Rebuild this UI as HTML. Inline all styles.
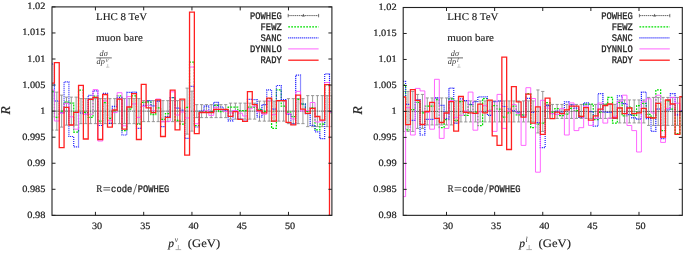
<!DOCTYPE html>
<html><head><meta charset="utf-8"><style>
html,body{margin:0;padding:0;background:#fff;width:685px;height:258px;overflow:hidden}
svg{display:block;will-change:transform}
text{-webkit-font-smoothing:antialiased;text-rendering:geometricPrecision}
.tl{font-family:"Liberation Serif",serif;font-size:9.7px;fill:#1a1a1a;stroke:#1a1a1a;stroke-width:0.2px}
.rm{font-family:"Liberation Serif",serif;font-size:10.4px;fill:#222;stroke:#222;stroke-width:0.15px}
.tt{font-family:"Liberation Mono",monospace;font-size:10px;fill:#222;stroke:#222;stroke-width:0.3px}
.fr{font-family:"Liberation Serif",serif;font-size:8.2px;font-style:italic;fill:#333}
.frs{font-family:"Liberation Serif",serif;font-size:6.2px;font-style:italic;fill:#333}
.ax{font-family:"Liberation Serif",serif;font-size:11.5px;fill:#222;stroke:#222;stroke-width:0.15px}
.axs{font-family:"Liberation Serif",serif;font-size:7.5px;fill:#222}
.ry{font-family:"Liberation Serif",serif;font-size:13.5px;font-style:italic;fill:#222;stroke:#222;stroke-width:0.2px}
</style></head><body>
<svg width="685" height="258" viewBox="0 0 685 258">
<clipPath id="clipL"><rect x="52.00" y="6.90" width="279.90" height="208.45"/></clipPath>
<g clip-path="url(#clipL)" fill="none">
<path d="M52.00 92.13V130.13M50.40 92.13H53.60M50.40 130.13H53.60M56.83 92.13V130.13M55.23 92.13H58.43M55.23 130.13H58.43M61.65 95.13V127.13M60.05 95.13H63.25M60.05 127.13H63.25M66.48 97.13V125.13M64.88 97.13H68.08M64.88 125.13H68.08M71.30 97.13V125.13M69.70 97.13H72.90M69.70 125.13H72.90M76.13 97.13V125.13M74.53 97.13H77.73M74.53 125.13H77.73M80.96 98.63V123.63M79.36 98.63H82.56M79.36 123.63H82.56M85.78 98.63V123.63M84.18 98.63H87.38M84.18 123.63H87.38M90.61 98.63V123.63M89.01 98.63H92.21M89.01 123.63H92.21M95.43 98.63V123.63M93.83 98.63H97.03M93.83 123.63H97.03M100.26 98.63V123.63M98.66 98.63H101.86M98.66 123.63H101.86M105.08 98.63V123.63M103.48 98.63H106.68M103.48 123.63H106.68M109.91 98.63V123.63M108.31 98.63H111.51M108.31 123.63H111.51M114.74 98.63V123.63M113.14 98.63H116.34M113.14 123.63H116.34M119.56 98.63V123.63M117.96 98.63H121.16M117.96 123.63H121.16M124.39 98.63V123.63M122.79 98.63H125.99M122.79 123.63H125.99M129.21 98.63V123.63M127.61 98.63H130.81M127.61 123.63H130.81M134.04 98.63V123.63M132.44 98.63H135.64M132.44 123.63H135.64M138.87 98.63V123.63M137.27 98.63H140.47M137.27 123.63H140.47M143.69 100.63V121.63M142.09 100.63H145.29M142.09 121.63H145.29M148.52 100.63V121.63M146.92 100.63H150.12M146.92 121.63H150.12M153.34 100.63V121.63M151.74 100.63H154.94M151.74 121.63H154.94M158.17 100.63V121.63M156.57 100.63H159.77M156.57 121.63H159.77M162.99 100.63V121.63M161.39 100.63H164.59M161.39 121.63H164.59M167.82 100.63V121.63M166.22 100.63H169.42M166.22 121.63H169.42M172.65 100.63V121.63M171.05 100.63H174.25M171.05 121.63H174.25M177.47 100.63V121.63M175.87 100.63H179.07M175.87 121.63H179.07M182.30 100.63V121.63M180.70 100.63H183.90M180.70 121.63H183.90M187.12 88.13V134.13M185.52 88.13H188.72M185.52 134.13H188.72M191.95 91.13V131.13M190.35 91.13H193.55M190.35 131.13H193.55M196.78 104.63V117.63M195.18 104.63H198.38M195.18 117.63H198.38M201.60 104.63V117.63M200.00 104.63H203.20M200.00 117.63H203.20M206.43 104.63V117.63M204.83 104.63H208.03M204.83 117.63H208.03M211.25 104.63V117.63M209.65 104.63H212.85M209.65 117.63H212.85M216.08 104.63V117.63M214.48 104.63H217.68M214.48 117.63H217.68M220.91 104.63V117.63M219.31 104.63H222.51M219.31 117.63H222.51M225.73 104.63V117.63M224.13 104.63H227.33M224.13 117.63H227.33M230.56 103.13V119.13M228.96 103.13H232.16M228.96 119.13H232.16M235.38 103.13V119.13M233.78 103.13H236.98M233.78 119.13H236.98M240.21 103.13V119.13M238.61 103.13H241.81M238.61 119.13H241.81M245.03 103.13V119.13M243.43 103.13H246.63M243.43 119.13H246.63M249.86 103.13V119.13M248.26 103.13H251.46M248.26 119.13H251.46M254.69 103.13V119.13M253.09 103.13H256.29M253.09 119.13H256.29M259.51 101.13V121.13M257.91 101.13H261.11M257.91 121.13H261.11M264.34 101.13V121.13M262.74 101.13H265.94M262.74 121.13H265.94M269.16 101.13V121.13M267.56 101.13H270.76M267.56 121.13H270.76M273.99 101.13V121.13M272.39 101.13H275.59M272.39 121.13H275.59M278.82 101.13V121.13M277.22 101.13H280.42M277.22 121.13H280.42M283.64 101.13V121.13M282.04 101.13H285.24M282.04 121.13H285.24M288.47 98.63V123.63M286.87 98.63H290.07M286.87 123.63H290.07M293.29 98.63V123.63M291.69 98.63H294.89M291.69 123.63H294.89M298.12 98.63V123.63M296.52 98.63H299.72M296.52 123.63H299.72M302.94 98.63V123.63M301.34 98.63H304.54M301.34 123.63H304.54M307.77 95.63V126.63M306.17 95.63H309.37M306.17 126.63H309.37M312.60 95.63V126.63M311.00 95.63H314.20M311.00 126.63H314.20M317.42 95.63V126.63M315.82 95.63H319.02M315.82 126.63H319.02M322.25 95.63V126.63M320.65 95.63H323.85M320.65 126.63H323.85M327.07 95.63V126.63M325.47 95.63H328.67M325.47 126.63H328.67M331.90 95.63V126.63M330.30 95.63H333.50M330.30 126.63H333.50" stroke="#888" stroke-width="0.85"/>
<path d="M52.00 111.13H331.90" stroke="#555" stroke-width="0.9" stroke-dasharray="1.5 0.6"/>
<path d="M52.00 91.00H54.41V117.40H59.24V111.10H64.06V102.05H68.89V103.00H73.72V132.10H78.54V90.10H83.37V112.27H88.19V117.40H93.02V96.00H97.85V121.00H102.67V102.55H107.50V118.40H112.32V110.69H117.15V95.90H121.97V130.60H126.80V109.10H131.63V95.90H136.45V124.00H141.28V102.40H146.10V101.90H150.93V114.50H155.76V107.80H160.58V119.40H165.41V113.60H170.23V97.60H175.06V120.30H179.89V124.00H184.71V107.30H189.54V62.20H194.36V125.50H199.19V111.60H204.01V111.60H208.84V111.60H213.67V105.48H218.49V111.60H223.32V109.71H228.14V107.20H232.97V107.20H237.80V110.60H242.62V110.60H247.45V107.00H252.27V107.20H257.10V109.40H261.92V111.35H266.75V98.50H271.58V128.40H276.40V89.90H281.23V106.20H286.05V112.02H290.88V116.74H295.71V99.30H300.53V104.00H305.36V111.40H310.18V107.50H315.01V129.90H319.84V124.00H324.66V84.70H329.49V112.66H331.90" stroke="#00e000" stroke-width="1.25" stroke-dasharray="1.8 1.2"/>
<path d="M52.00 64.00H54.41V101.00H59.24V112.60H64.06V81.90H68.89V136.50H73.72V146.80H78.54V113.00H83.37V114.00H88.19V95.40H93.02V90.80H97.85V125.50H102.67V93.30H107.50V123.30H112.32V106.30H117.15V97.30H121.97V135.00H126.80V92.40H131.63V92.20H136.45V128.40H141.28V105.30H146.10V100.70H150.93V105.80H155.76V101.20H160.58V126.70H165.41V116.50H170.23V97.60H175.06V108.20H179.89V110.20H184.71V138.40H189.54V86.30H194.36V127.00H199.19V111.00H204.01V106.20H208.84V112.00H213.67V102.40H218.49V107.00H223.32V110.08H228.14V120.80H232.97V111.08H237.80V119.00H242.62V121.00H247.45V99.30H252.27V99.60H257.10V117.00H261.92V104.70H266.75V89.90H271.58V109.10H276.40V85.50H281.23V99.60H286.05V114.30H290.88V123.90H295.71V75.10H300.53V104.00H305.36V113.60H310.18V125.30H315.01V131.80H319.84V138.70H324.66V73.90H329.49V111.97H331.90" stroke="#1f1fff" stroke-width="1.2" stroke-dasharray="1.1 0.9"/>
<path d="M52.00 90.00H54.41V121.00H59.24V113.26H64.06V103.40H68.89V116.81H73.72V129.20H78.54V85.60H83.37V114.30H88.19V114.30H93.02V89.60H97.85V141.00H102.67V100.91H107.50V120.30H112.32V112.60H117.15V92.70H121.97V125.80H126.80V96.60H131.63V103.90H136.45V117.40H141.28V106.27H146.10V105.30H150.93V110.70H155.76V99.00H160.58V121.80H165.41V121.30H170.23V91.80H175.06V115.00H179.89V112.00H184.71V118.00H189.54V67.00H194.36V123.70H199.19V112.24H204.01V110.75H208.84V115.40H213.67V107.30H218.49V109.66H223.32V111.49H228.14V112.91H232.97V110.60H237.80V113.23H242.62V116.00H247.45V108.70H252.27V106.26H257.10V111.98H261.92V114.30H266.75V100.20H271.58V114.64H276.40V100.60H281.23V100.60H286.05V113.41H290.88V119.02H295.71V91.40H300.53V111.00H305.36V110.50H310.18V102.50H315.01V122.00H319.84V121.00H324.66V82.50H329.49V112.52H331.90" stroke="#ff55ff" stroke-width="0.9"/>
<path d="M52.00 83.20H54.41V62.60H59.24V147.60H64.06V107.40H68.89V125.00H73.72V112.40H78.54V85.40H83.37V139.00H88.19V99.30H93.02V97.30H97.85V139.50H102.67V94.50H107.50V127.20H112.32V110.00H117.15V99.20H121.97V129.20H126.80V107.00H131.63V93.60H136.45V139.50H141.28V84.30H146.10V107.80H150.93V112.70H155.76V99.80H160.58V136.50H165.41V117.30H170.23V90.10H175.06V129.90H179.89V99.10H184.71V155.20H189.54V12.10H194.36V133.60H199.19V112.50H204.01V112.50H208.84V112.50H213.67V109.40H218.49V109.40H223.32V109.40H228.14V116.40H232.97V111.60H237.80V119.30H242.62V121.30H247.45V91.70H252.27V104.70H257.10V110.60H261.92V112.80H266.75V98.10H271.58V121.20H276.40V100.60H281.23V100.60H286.05V122.40H290.88V124.90H295.71V95.20H300.53V109.10H305.36V113.30H310.18V108.40H315.01V116.50H319.84V120.20H324.66V84.70H329.49V240.00H331.90" stroke="#ff2020" stroke-width="1.3"/>
</g>
<rect x="52.00" y="6.90" width="279.90" height="208.45" fill="none" stroke="#222" stroke-width="1.1"/>
<path d="M52.00 6.90h3.50M331.90 6.90h-3.50M52.00 32.96h3.50M331.90 32.96h-3.50M52.00 59.01h3.50M331.90 59.01h-3.50M52.00 85.07h3.50M331.90 85.07h-3.50M52.00 111.13h3.50M331.90 111.13h-3.50M52.00 137.18h3.50M331.90 137.18h-3.50M52.00 163.24h3.50M331.90 163.24h-3.50M52.00 189.29h3.50M331.90 189.29h-3.50M52.00 215.35h3.50M331.90 215.35h-3.50M95.43 215.35v-3.50M95.43 6.90v3.50M143.69 215.35v-3.50M143.69 6.90v3.50M191.95 215.35v-3.50M191.95 6.90v3.50M240.21 215.35v-3.50M240.21 6.90v3.50M288.47 215.35v-3.50M288.47 6.90v3.50" stroke="#222" stroke-width="1" fill="none"/>
<text x="27.25" y="9.40" class="tl" textLength="18.15" lengthAdjust="spacingAndGlyphs">1.02</text>
<text x="22.15" y="35.46" class="tl" textLength="23.25" lengthAdjust="spacingAndGlyphs">1.015</text>
<text x="27.25" y="61.51" class="tl" textLength="18.15" lengthAdjust="spacingAndGlyphs">1.01</text>
<text x="22.15" y="87.57" class="tl" textLength="23.25" lengthAdjust="spacingAndGlyphs">1.005</text>
<text x="40.30" y="113.63" class="tl" textLength="5.10" lengthAdjust="spacingAndGlyphs">1</text>
<text x="22.15" y="139.68" class="tl" textLength="23.25" lengthAdjust="spacingAndGlyphs">0.995</text>
<text x="27.25" y="165.74" class="tl" textLength="18.15" lengthAdjust="spacingAndGlyphs">0.99</text>
<text x="22.15" y="191.79" class="tl" textLength="23.25" lengthAdjust="spacingAndGlyphs">0.985</text>
<text x="27.25" y="217.85" class="tl" textLength="18.15" lengthAdjust="spacingAndGlyphs">0.98</text>
<text x="91.93" y="229.0" class="tl" textLength="10.2" lengthAdjust="spacingAndGlyphs">30</text>
<text x="140.19" y="229.0" class="tl" textLength="10.2" lengthAdjust="spacingAndGlyphs">35</text>
<text x="188.45" y="229.0" class="tl" textLength="10.2" lengthAdjust="spacingAndGlyphs">40</text>
<text x="236.71" y="229.0" class="tl" textLength="10.2" lengthAdjust="spacingAndGlyphs">45</text>
<text x="284.97" y="229.0" class="tl" textLength="10.2" lengthAdjust="spacingAndGlyphs">50</text>
<text x="96.00" y="20.1" class="rm" textLength="51.2" lengthAdjust="spacingAndGlyphs">LHC 8 TeV</text>
<text x="96.00" y="40.8" class="rm" textLength="46.8" lengthAdjust="spacingAndGlyphs">muon bare</text>
<text x="99.60" y="56.0" class="fr">d&#963;</text>
<path d="M96.30 57.9H111.80" stroke="#444" stroke-width="0.8"/>
<text x="96.60" y="64.0" class="fr">dp</text>
<text x="105.70" y="62.2" class="frs">&#957;</text>
<path d="M106.00 67.2h3.4M107.70 67.2v-3.2" stroke="#aaa" stroke-width="0.6" fill="none"/>
<text x="281.70" y="18.70" class="tt" text-anchor="end" textLength="31.68" lengthAdjust="spacingAndGlyphs">POWHEG</text>
<text x="281.70" y="30.00" class="tt" text-anchor="end" textLength="21.12" lengthAdjust="spacingAndGlyphs">FEWZ</text>
<text x="281.70" y="41.00" class="tt" text-anchor="end" textLength="21.12" lengthAdjust="spacingAndGlyphs">SANC</text>
<text x="281.70" y="52.00" class="tt" text-anchor="end" textLength="31.68" lengthAdjust="spacingAndGlyphs">DYNNLO</text>
<text x="281.70" y="63.30" class="tt" text-anchor="end" textLength="21.12" lengthAdjust="spacingAndGlyphs">RADY</text>
<path d="M288.20 15.60H318.60" stroke="#555" stroke-width="0.9" stroke-dasharray="1.5 0.6"/>
<path d="M288.20 13.90v3.4M318.60 13.90v3.4" stroke="#666" stroke-width="0.9"/>
<path d="M301.90 16.60l1.5 -2.9l1.5 2.9z" fill="#555"/>
<path d="M288.20 26.90H318.60" stroke="#00e000" stroke-width="1.25" stroke-dasharray="1.8 1.2"/>
<path d="M288.20 37.90H318.60" stroke="#1f1fff" stroke-width="1.2" stroke-dasharray="1.1 0.9"/>
<path d="M288.20 48.90H318.60" stroke="#ff55ff" stroke-width="0.9"/>
<path d="M288.20 60.20H318.60" stroke="#ff2020" stroke-width="1.3"/>
<text x="96.30" y="191.7" class="rm" textLength="6.1" lengthAdjust="spacingAndGlyphs">R</text>
<path d="M103.40 187.6h6.7M103.40 190.0h6.7" stroke="#333" stroke-width="0.75"/>
<text x="111.10" y="191.7" class="tt" textLength="21.2" lengthAdjust="spacingAndGlyphs">code</text>
<path d="M133.30 194.4L136.70 184.0" stroke="#333" stroke-width="0.7"/>
<text x="137.80" y="191.7" class="tt" textLength="31.6" lengthAdjust="spacingAndGlyphs">POWHEG</text>
<text x="168.35" y="247.1" class="ax"><tspan font-style="italic">p</tspan></text>
<text x="174.75" y="241.6" class="axs" font-style="italic">&#957;</text>
<path d="M175.55 249.6h5.6M178.35 249.6v-4.6" stroke="#999" stroke-width="0.8" fill="none"/>
<text x="187.75" y="247.1" class="ax" textLength="32.4" lengthAdjust="spacingAndGlyphs">(GeV)</text>
<text transform="translate(10.40 114.6) rotate(-90)" class="ry">R</text>
<clipPath id="clipR"><rect x="403.20" y="7.50" width="279.10" height="207.85"/></clipPath>
<g clip-path="url(#clipR)" fill="none">
<path d="M403.20 91.43V131.43M401.60 91.43H404.80M401.60 131.43H404.80M408.01 91.43V131.43M406.41 91.43H409.61M406.41 131.43H409.61M412.82 91.43V131.43M411.22 91.43H414.42M411.22 131.43H414.42M417.64 94.43V128.43M416.04 94.43H419.24M416.04 128.43H419.24M422.45 94.43V128.43M420.85 94.43H424.05M420.85 128.43H424.05M427.26 97.93V124.93M425.66 97.93H428.86M425.66 124.93H428.86M432.07 97.93V124.93M430.47 97.93H433.67M430.47 124.93H433.67M436.88 97.93V124.93M435.28 97.93H438.48M435.28 124.93H438.48M441.70 97.93V124.93M440.10 97.93H443.30M440.10 124.93H443.30M446.51 97.93V124.93M444.91 97.93H448.11M444.91 124.93H448.11M451.32 97.93V124.93M449.72 97.93H452.92M449.72 124.93H452.92M456.13 100.93V121.93M454.53 100.93H457.73M454.53 121.93H457.73M460.94 100.93V121.93M459.34 100.93H462.54M459.34 121.93H462.54M465.76 100.93V121.93M464.16 100.93H467.36M464.16 121.93H467.36M470.57 100.93V121.93M468.97 100.93H472.17M468.97 121.93H472.17M475.38 100.93V121.93M473.78 100.93H476.98M473.78 121.93H476.98M480.19 100.93V121.93M478.59 100.93H481.79M478.59 121.93H481.79M485.01 100.93V121.93M483.41 100.93H486.61M483.41 121.93H486.61M489.82 100.93V121.93M488.22 100.93H491.42M488.22 121.93H491.42M494.63 100.93V121.93M493.03 100.93H496.23M493.03 121.93H496.23M499.44 100.93V121.93M497.84 100.93H501.04M497.84 121.93H501.04M504.25 100.93V121.93M502.65 100.93H505.85M502.65 121.93H505.85M509.07 100.93V121.93M507.47 100.93H510.67M507.47 121.93H510.67M513.88 100.93V121.93M512.28 100.93H515.48M512.28 121.93H515.48M518.69 100.93V121.93M517.09 100.93H520.29M517.09 121.93H520.29M523.50 100.93V121.93M521.90 100.93H525.10M521.90 121.93H525.10M528.31 100.93V121.93M526.71 100.93H529.91M526.71 121.93H529.91M533.13 100.93V121.93M531.53 100.93H534.73M531.53 121.93H534.73M537.94 89.93V132.93M536.34 89.93H539.54M536.34 132.93H539.54M542.75 91.43V131.43M541.15 91.43H544.35M541.15 131.43H544.35M547.56 104.43V118.43M545.96 104.43H549.16M545.96 118.43H549.16M552.37 104.43V118.43M550.77 104.43H553.97M550.77 118.43H553.97M557.19 104.43V118.43M555.59 104.43H558.79M555.59 118.43H558.79M562.00 104.43V118.43M560.40 104.43H563.60M560.40 118.43H563.60M566.81 104.43V118.43M565.21 104.43H568.41M565.21 118.43H568.41M571.62 104.43V118.43M570.02 104.43H573.22M570.02 118.43H573.22M576.43 104.43V118.43M574.83 104.43H578.03M574.83 118.43H578.03M581.25 104.43V118.43M579.65 104.43H582.85M579.65 118.43H582.85M586.06 104.43V118.43M584.46 104.43H587.66M584.46 118.43H587.66M590.87 104.43V118.43M589.27 104.43H592.47M589.27 118.43H592.47M595.68 104.43V118.43M594.08 104.43H597.28M594.08 118.43H597.28M600.49 104.43V118.43M598.89 104.43H602.09M598.89 118.43H602.09M605.31 104.43V118.43M603.71 104.43H606.91M603.71 118.43H606.91M610.12 104.43V118.43M608.52 104.43H611.72M608.52 118.43H611.72M614.93 104.43V118.43M613.33 104.43H616.53M613.33 118.43H616.53M619.74 99.93V122.93M618.14 99.93H621.34M618.14 122.93H621.34M624.56 99.93V122.93M622.96 99.93H626.16M622.96 122.93H626.16M629.37 99.93V122.93M627.77 99.93H630.97M627.77 122.93H630.97M634.18 99.93V122.93M632.58 99.93H635.78M632.58 122.93H635.78M638.99 99.93V122.93M637.39 99.93H640.59M637.39 122.93H640.59M643.80 99.93V122.93M642.20 99.93H645.40M642.20 122.93H645.40M648.62 97.43V125.43M647.02 97.43H650.22M647.02 125.43H650.22M653.43 97.43V125.43M651.83 97.43H655.03M651.83 125.43H655.03M658.24 97.43V125.43M656.64 97.43H659.84M656.64 125.43H659.84M663.05 97.43V125.43M661.45 97.43H664.65M661.45 125.43H664.65M667.86 97.43V125.43M666.26 97.43H669.46M666.26 125.43H669.46M672.68 97.43V125.43M671.08 97.43H674.28M671.08 125.43H674.28M677.49 97.43V125.43M675.89 97.43H679.09M675.89 125.43H679.09M682.30 97.43V125.43M680.70 97.43H683.90M680.70 125.43H683.90" stroke="#888" stroke-width="0.85"/>
<path d="M403.20 111.43H682.30" stroke="#555" stroke-width="0.9" stroke-dasharray="1.5 0.6"/>
<path d="M403.20 85.00H405.61V129.90H410.42V109.60H415.23V102.40H420.04V112.94H424.85V106.20H429.67V106.20H434.48V99.64H439.29V127.70H444.10V119.74H448.91V98.92H453.73V120.30H458.54V101.70H463.35V115.30H468.16V104.60H472.97V112.06H477.79V125.50H482.60V98.50H487.41V110.40H492.22V105.60H497.04V109.00H501.85V117.20H506.66V112.80H511.47V106.00H516.28V114.80H521.10V114.80H525.91V93.50H530.72V127.70H535.53V124.16H540.34V123.10H545.16V102.70H549.97V112.30H554.78V108.70H559.59V115.50H564.40V114.00H569.22V108.29H574.03V110.70H578.84V116.46H583.65V104.00H588.46V104.00H593.28V119.50H598.09V112.40H602.90V104.20H607.71V97.40H612.52V123.10H617.34V102.30H622.15V115.80H626.96V107.10H631.77V115.30H636.59V105.50H641.40V103.38H646.21V114.40H651.02V117.59H655.83V89.90H660.65V130.60H665.46V100.80H670.27V109.10H675.08V133.60H679.89V111.86H682.30" stroke="#00e000" stroke-width="1.25" stroke-dasharray="1.8 1.2"/>
<path d="M403.20 81.30H405.61V104.40H410.42V120.30H415.23V99.50H420.04V135.00H424.85V119.40H429.67V119.40H434.48V97.88H439.29V105.30H444.10V118.60H448.91V88.10H453.73V123.30H458.54V98.80H463.35V100.70H468.16V104.45H472.97V101.70H477.79V96.80H482.60V96.80H487.41V115.30H492.22V101.70H497.04V101.00H501.85V106.50H506.66V109.00H511.47V110.90H516.28V112.30H521.10V116.00H525.91V98.30H530.72V112.30H535.53V122.64H540.34V147.60H545.16V105.60H549.97V113.60H554.78V111.10H559.59V112.00H564.40V101.80H569.22V104.80H574.03V108.20H578.84V117.30H583.65V102.80H588.46V111.64H593.28V126.20H598.09V93.60H602.90V112.12H607.71V112.40H612.52V118.39H617.34V95.90H622.15V103.70H626.96V114.64H631.77V117.86H636.59V119.13H641.40V92.10H646.21V118.70H651.02V131.40H655.83V109.00H660.65V138.70H665.46V110.00H670.27V93.70H675.08V114.90H679.89V110.51H682.30" stroke="#1f1fff" stroke-width="1.2" stroke-dasharray="1.1 0.9"/>
<path d="M403.20 196.60H405.61V107.70H410.42V135.00H415.23V88.40H420.04V90.90H424.85V112.36H429.67V129.20H434.48V79.30H439.29V138.40H444.10V128.40H448.91V100.36H453.73V117.37H458.54V115.30H463.35V110.91H468.16V92.10H472.97V130.20H477.79V111.88H482.60V105.68H487.41V110.60H492.22V131.40H497.04V94.40H501.85V128.40H506.66V110.93H511.47V104.60H516.28V113.69H521.10V145.40H525.91V87.70H530.72V98.50H535.53V172.20H540.34V100.30H545.16V108.11H549.97V113.59H554.78V114.50H559.59V108.70H564.40V135.00H569.22V102.90H574.03V130.60H578.84V127.70H583.65V106.13H588.46V125.40H593.28V118.59H598.09V103.00H602.90V123.10H607.71V118.00H612.52V116.38H617.34V101.30H622.15V95.20H626.96V125.50H631.77V130.60H636.59V152.00H641.40V101.80H646.21V98.80H651.02V113.00H655.83V95.20H660.65V142.40H665.46V108.42H670.27V97.40H675.08V103.20H679.89V111.40H682.30" stroke="#ff55ff" stroke-width="0.9"/>
<path d="M403.20 97.00H405.61V124.70H410.42V89.60H415.23V100.30H420.04V124.50H424.85V111.50H429.67V102.40H434.48V118.30H439.29V122.50H444.10V113.00H448.91V101.70H453.73V131.10H458.54V96.50H463.35V112.30H468.16V112.80H472.97V113.30H477.79V104.20H482.60V112.80H487.41V100.20H492.22V135.80H497.04V145.40H501.85V57.20H506.66V149.50H511.47V86.60H516.28V101.80H521.10V117.20H525.91V94.10H530.72V123.10H535.53V106.90H540.34V134.30H545.16V98.10H549.97V118.70H554.78V112.10H559.59V113.60H564.40V109.90H569.22V106.20H574.03V106.20H578.84V116.50H583.65V107.70H588.46V120.20H593.28V115.80H598.09V109.10H602.90V105.50H607.71V104.00H612.52V118.00H617.34V108.00H622.15V113.60H626.96V108.00H631.77V113.60H636.59V112.80H641.40V108.40H646.21V117.30H651.02V118.00H655.83V103.30H660.65V137.00H665.46V100.00H670.27V104.00H675.08V134.30H679.89V96.60H682.30" stroke="#ff2020" stroke-width="1.3"/>
</g>
<rect x="403.20" y="7.50" width="279.10" height="207.85" fill="none" stroke="#222" stroke-width="1.1"/>
<path d="M403.20 7.50h3.50M682.30 7.50h-3.50M403.20 33.48h3.50M682.30 33.48h-3.50M403.20 59.46h3.50M682.30 59.46h-3.50M403.20 85.44h3.50M682.30 85.44h-3.50M403.20 111.43h3.50M682.30 111.43h-3.50M403.20 137.41h3.50M682.30 137.41h-3.50M403.20 163.39h3.50M682.30 163.39h-3.50M403.20 189.37h3.50M682.30 189.37h-3.50M403.20 215.35h3.50M682.30 215.35h-3.50M446.51 215.35v-3.50M446.51 7.50v3.50M494.63 215.35v-3.50M494.63 7.50v3.50M542.75 215.35v-3.50M542.75 7.50v3.50M590.87 215.35v-3.50M590.87 7.50v3.50M638.99 215.35v-3.50M638.99 7.50v3.50" stroke="#222" stroke-width="1" fill="none"/>
<text x="378.45" y="10.00" class="tl" textLength="18.15" lengthAdjust="spacingAndGlyphs">1.02</text>
<text x="373.35" y="35.98" class="tl" textLength="23.25" lengthAdjust="spacingAndGlyphs">1.015</text>
<text x="378.45" y="61.96" class="tl" textLength="18.15" lengthAdjust="spacingAndGlyphs">1.01</text>
<text x="373.35" y="87.94" class="tl" textLength="23.25" lengthAdjust="spacingAndGlyphs">1.005</text>
<text x="391.50" y="113.93" class="tl" textLength="5.10" lengthAdjust="spacingAndGlyphs">1</text>
<text x="373.35" y="139.91" class="tl" textLength="23.25" lengthAdjust="spacingAndGlyphs">0.995</text>
<text x="378.45" y="165.89" class="tl" textLength="18.15" lengthAdjust="spacingAndGlyphs">0.99</text>
<text x="373.35" y="191.87" class="tl" textLength="23.25" lengthAdjust="spacingAndGlyphs">0.985</text>
<text x="378.45" y="217.85" class="tl" textLength="18.15" lengthAdjust="spacingAndGlyphs">0.98</text>
<text x="443.01" y="229.0" class="tl" textLength="10.2" lengthAdjust="spacingAndGlyphs">30</text>
<text x="491.13" y="229.0" class="tl" textLength="10.2" lengthAdjust="spacingAndGlyphs">35</text>
<text x="539.25" y="229.0" class="tl" textLength="10.2" lengthAdjust="spacingAndGlyphs">40</text>
<text x="587.37" y="229.0" class="tl" textLength="10.2" lengthAdjust="spacingAndGlyphs">45</text>
<text x="635.49" y="229.0" class="tl" textLength="10.2" lengthAdjust="spacingAndGlyphs">50</text>
<text x="447.20" y="20.1" class="rm" textLength="51.2" lengthAdjust="spacingAndGlyphs">LHC 8 TeV</text>
<text x="447.20" y="40.8" class="rm" textLength="46.8" lengthAdjust="spacingAndGlyphs">muon bare</text>
<text x="450.80" y="56.0" class="fr">d&#963;</text>
<path d="M447.50 57.9H463.00" stroke="#444" stroke-width="0.8"/>
<text x="447.80" y="64.0" class="fr">dp</text>
<text x="456.90" y="62.2" class="frs">l</text>
<path d="M457.20 67.2h3.4M458.90 67.2v-3.2" stroke="#aaa" stroke-width="0.6" fill="none"/>
<text x="632.90" y="18.70" class="tt" text-anchor="end" textLength="31.68" lengthAdjust="spacingAndGlyphs">POWHEG</text>
<text x="632.90" y="30.00" class="tt" text-anchor="end" textLength="21.12" lengthAdjust="spacingAndGlyphs">FEWZ</text>
<text x="632.90" y="41.00" class="tt" text-anchor="end" textLength="21.12" lengthAdjust="spacingAndGlyphs">SANC</text>
<text x="632.90" y="52.00" class="tt" text-anchor="end" textLength="31.68" lengthAdjust="spacingAndGlyphs">DYNNLO</text>
<text x="632.90" y="63.30" class="tt" text-anchor="end" textLength="21.12" lengthAdjust="spacingAndGlyphs">RADY</text>
<path d="M639.40 15.60H669.80" stroke="#555" stroke-width="0.9" stroke-dasharray="1.5 0.6"/>
<path d="M639.40 13.90v3.4M669.80 13.90v3.4" stroke="#666" stroke-width="0.9"/>
<path d="M653.10 16.60l1.5 -2.9l1.5 2.9z" fill="#555"/>
<path d="M639.40 26.90H669.80" stroke="#00e000" stroke-width="1.25" stroke-dasharray="1.8 1.2"/>
<path d="M639.40 37.90H669.80" stroke="#1f1fff" stroke-width="1.2" stroke-dasharray="1.1 0.9"/>
<path d="M639.40 48.90H669.80" stroke="#ff55ff" stroke-width="0.9"/>
<path d="M639.40 60.20H669.80" stroke="#ff2020" stroke-width="1.3"/>
<text x="447.50" y="191.7" class="rm" textLength="6.1" lengthAdjust="spacingAndGlyphs">R</text>
<path d="M454.60 187.6h6.7M454.60 190.0h6.7" stroke="#333" stroke-width="0.75"/>
<text x="462.30" y="191.7" class="tt" textLength="21.2" lengthAdjust="spacingAndGlyphs">code</text>
<path d="M484.50 194.4L487.90 184.0" stroke="#333" stroke-width="0.7"/>
<text x="489.00" y="191.7" class="tt" textLength="31.6" lengthAdjust="spacingAndGlyphs">POWHEG</text>
<text x="519.15" y="247.1" class="ax"><tspan font-style="italic">p</tspan></text>
<text x="525.55" y="241.6" class="axs" font-style="italic">l</text>
<path d="M526.35 249.6h5.6M529.15 249.6v-4.6" stroke="#999" stroke-width="0.8" fill="none"/>
<text x="538.55" y="247.1" class="ax" textLength="32.4" lengthAdjust="spacingAndGlyphs">(GeV)</text>
<text transform="translate(361.60 114.6) rotate(-90)" class="ry">R</text>
</svg>
</body></html>
